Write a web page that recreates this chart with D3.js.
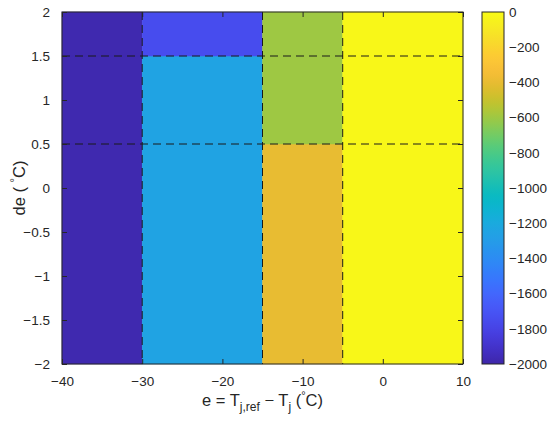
<!DOCTYPE html>
<html>
<head>
<meta charset="utf-8">
<script src="https://cdn.jsdelivr.net/npm/d3@7"></script>
<style>
  body { margin: 0; background: #fff; }
  text { font-family: "Liberation Sans", Arial, sans-serif; fill: #262626; }
</style>
</head>
<body>
<div id="chart"></div>
<script>
// Data
const xEdges = [-40, -30, -15, -5, 10];
const yEdges = [-2, 0.5, 1.5, 2];
// one row per y band (bottom to top), one value per x band
const cellValues = [
  [-1980, -1250, -400, -20],
  [-1980, -1250, -600, -20],
  [-1980, -1750, -600, -20]
];
const xTicks = [-40, -30, -20, -10, 0, 10];
const yTicks = [-2, -1.5, -1, -0.5, 0, 0.5, 1, 1.5, 2];
const cbTicks = [0, -200, -400, -600, -800, -1000, -1200, -1400, -1600, -1800, -2000];
const dashedX = [-30, -15, -5];
const dashedY = [0.5, 1.5];

// parula (subsampled)
const parula = [
  [0.2422,0.1504,0.6603],[0.2647,0.1978,0.7952],[0.2783,0.2559,0.8991],[0.2810,0.3228,0.9579],
  [0.2699,0.3892,0.9906],[0.2206,0.4603,0.9973],[0.1786,0.5289,0.9682],[0.1540,0.5902,0.9218],
  [0.1248,0.6459,0.8883],[0.0689,0.6948,0.8394],[0.0067,0.7312,0.7660],[0.1408,0.7584,0.6842],
  [0.2161,0.7843,0.5923],[0.3406,0.8008,0.4789],[0.5044,0.7993,0.3480],[0.6720,0.7793,0.2227],
  [0.8203,0.7498,0.1535],[0.9393,0.7288,0.2100],[0.9970,0.7659,0.2199],[0.9786,0.8386,0.1766],
  [0.9597,0.9135,0.1423],[0.9769,0.9839,0.0805]
].map(c => d3.rgb(c[0] * 255, c[1] * 255, c[2] * 255).formatHex());
const interp = d3.interpolateRgbBasis(parula);
const color = d3.scaleSequential(interp).domain([-2000, 0]);

// Dimensions
const W = 550, H = 425;
const plot = { left: 62, top: 12, right: 463, bottom: 364 };
const cb = { left: 482, right: 504 };

const svg = d3.select("#chart").append("svg")
  .attr("width", W).attr("height", H);

const x = d3.scaleLinear().domain([-40, 10]).range([plot.left, plot.right]);
const y = d3.scaleLinear().domain([-2, 2]).range([plot.bottom, plot.top]);
const fmt = d3.format("~g");

// Cells
const cells = [];
cellValues.forEach((row, j) => row.forEach((v, i) => cells.push({ i, j, v })));
svg.append("g").selectAll("rect")
  .data(cells)
  .join("rect")
  .attr("x", d => x(xEdges[d.i]))
  .attr("y", d => y(yEdges[d.j + 1]))
  .attr("width", d => x(xEdges[d.i + 1]) - x(xEdges[d.i]))
  .attr("height", d => y(yEdges[d.j]) - y(yEdges[d.j + 1]))
  .attr("fill", d => color(d.v))
  .attr("stroke", d => color(d.v))
  .attr("stroke-width", 0.5);

// Dashed lines
const dash = svg.append("g")
  .attr("stroke", "#1a1a1a").attr("stroke-width", 1).attr("stroke-dasharray", "8,5");
dash.selectAll(".vx").data(dashedX).join("line")
  .attr("x1", d => x(d)).attr("x2", d => x(d))
  .attr("y1", plot.top).attr("y2", plot.bottom);
dash.selectAll(".hy").data(dashedY).join("line")
  .attr("y1", d => y(d)).attr("y2", d => y(d))
  .attr("x1", plot.left).attr("x2", plot.right);

// Axes (MATLAB style: ticks inside, box)
const axCol = "#262626";
function axis(gen, tr) {
  const g = svg.append("g").attr("transform", tr).call(gen);
  g.select(".domain").remove();
  g.selectAll("line").attr("stroke", axCol);
  g.selectAll("text").attr("font-size", "13.5px").style("fill", axCol);
  return g;
}
axis(d3.axisBottom(x).tickValues(xTicks).tickFormat(fmt).tickSizeInner(-5).tickPadding(12),
  `translate(0,${plot.bottom})`);
axis(d3.axisTop(x).tickValues(xTicks).tickFormat("").tickSizeInner(-5), `translate(0,${plot.top})`);
axis(d3.axisLeft(y).tickValues(yTicks).tickFormat(fmt).tickSizeInner(-5).tickPadding(12),
  `translate(${plot.left},0)`);
axis(d3.axisRight(y).tickValues(yTicks).tickFormat("").tickSizeInner(-5), `translate(${plot.right},0)`);

svg.append("rect")
  .attr("x", plot.left).attr("y", plot.top)
  .attr("width", plot.right - plot.left).attr("height", plot.bottom - plot.top)
  .attr("fill", "none").attr("stroke", axCol).attr("stroke-width", 1);

// Colorbar
const cy = d3.scaleLinear().domain([-2000, 0]).range([plot.bottom, plot.top]);
const defs = svg.append("defs");
const grad = defs.append("linearGradient").attr("id", "cbgrad")
  .attr("x1", 0).attr("y1", 1).attr("x2", 0).attr("y2", 0);
d3.range(0, 1.0001, 0.02).forEach(t => {
  grad.append("stop").attr("offset", t).attr("stop-color", interp(t));
});
svg.append("rect")
  .attr("x", cb.left).attr("y", plot.top)
  .attr("width", cb.right - cb.left).attr("height", plot.bottom - plot.top)
  .attr("fill", "url(#cbgrad)").attr("stroke", axCol).attr("stroke-width", 1);
axis(d3.axisRight(cy).tickValues(cbTicks).tickFormat(fmt).tickSize(0).tickPadding(5),
  `translate(${cb.right},0)`);

// Labels
const xl = svg.append("text")
  .attr("x", (plot.left + plot.right) / 2).attr("y", 406)
  .attr("text-anchor", "middle").attr("font-size", "16.5px");
xl.append("tspan").text("e = T");
xl.append("tspan").attr("font-size", "12px").attr("dy", 5).text("j,ref");
xl.append("tspan").attr("dy", -5).text(" \u2212 T");
xl.append("tspan").attr("font-size", "12px").attr("dy", 5).text("j");
xl.append("tspan").attr("dy", -5).text(" (");
xl.append("tspan").attr("font-size", "11px").attr("dy", -7).text("\u00b0");
xl.append("tspan").attr("dy", 7).text("C)");

const yl = svg.append("text")
  .attr("transform", `translate(25,${(plot.top + plot.bottom) / 2}) rotate(-90)`)
  .attr("text-anchor", "middle").attr("font-size", "16.5px");
yl.append("tspan").text("de ( ");
yl.append("tspan").attr("font-size", "11px").attr("dy", -7).text("\u00b0");
yl.append("tspan").attr("dy", 7).text("C)");
</script>
</body>
</html>
